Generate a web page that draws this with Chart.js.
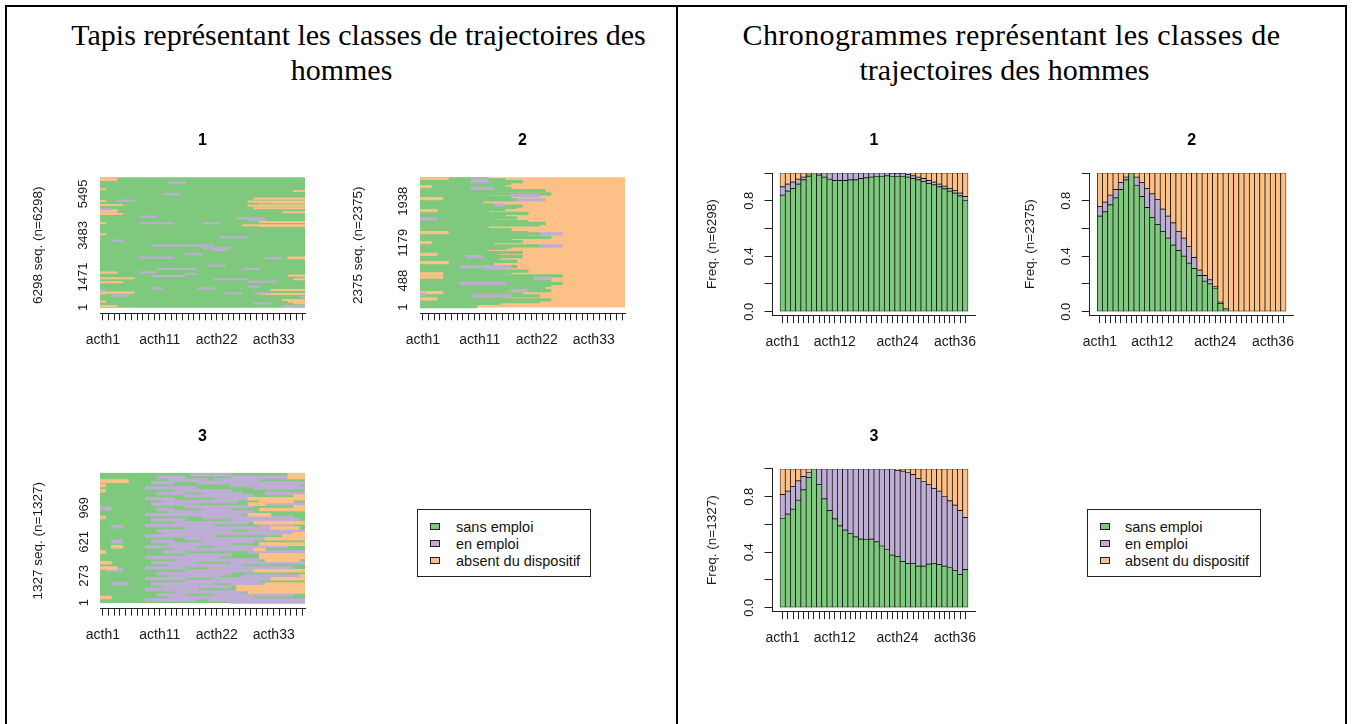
<!DOCTYPE html>
<html>
<head>
<meta charset="utf-8">
<title>Classes de trajectoires des hommes</title>
<script src="https://cdn.jsdelivr.net/npm/chart.js@4.4.1/dist/chart.umd.min.js"></script>
<style>
  body { margin: 0; background: #fff; }
  #page { position: relative; width: 1353px; height: 724px; overflow: hidden; background: #fff; }
  .frame { position: absolute; left: 5px; top: 5px; width: 1338px; height: 740px; border: 2px solid #000; }
  .divider { position: absolute; left: 676px; top: 5px; width: 2px; height: 740px; background: #000; }
  .bigtitle { position: absolute; top: 17px; font-family: 'Liberation Serif', 'Times New Roman', serif; font-size: 30px; line-height: 35px; text-align: center; color: #000; }
  canvas { position: absolute; }
  .legend { position: absolute; width: 172px; height: 66px; border: 1px solid #222; font-family: 'Liberation Sans', Arial, sans-serif; font-size: 14.5px; color: #111; }
  .legend .item { position: absolute; left: 0; height: 16px; line-height: 16px; white-space: nowrap; }
  .legend .sw { position: absolute; top: 4px; width: 10px; height: 7px; box-sizing: border-box; border: 1px solid #222; }
</style>
</head>
<body>
<div id="page">
  <div class="frame"></div>
  <div class="divider"></div>
  <div class="bigtitle" style="left:7px;width:669px"><span style="position:relative;left:17px">Tapis représentant les classes de trajectoires des</span><br>hommes</div>
  <div class="bigtitle" style="left:678px;width:667px"><span style="letter-spacing:0.4px">Chronogrammes représentant les classes de</span><br><span style="position:relative;left:-7px">trajectoires des hommes</span></div>
  <div class="legend" id="legendLeft" style="left:417px;top:509px"></div>
  <div class="legend" id="legendRight" style="left:1087px;top:509px"></div>
</div>
<script>
// ---- states (alphabet) and colours ----
const states = ['sans emploi', 'en emploi', 'absent du dispositif'];
const stateColors = ['#7FC97F', '#BEAED4', '#FDC086'];

// ---- x axis: 36 monthly columns, and the labels R kept on the axis ----
const months = Array.from({ length: 36 }, (_, i) => 'acth' + (i + 1));
const tapisTickPos = [1, 11, 21, 31];
const tapisTickText = ['acth1', 'acth11', 'acth22', 'acth33'];
const chronoTickPos = [1, 11, 23, 34];
const chronoTickText = ['acth1', 'acth12', 'acth24', 'acth36'];

// ---- class sizes ----
const classSizes = [6298, 2375, 1327];

// ---- index plot y ticks (sequence numbers) ----
const tapis1YTicks = [1, 1471, 3483, 5495];
const tapis2YTicks = [1, 488, 1179, 1938];
const tapis3YTicks = [1, 273, 621, 969];

// ---- chronogram y ticks ----
const chronoYTicks = [0, 0.2, 0.4, 0.6, 0.8, 1];
const chronoYLabels = ['0.0', '', '0.4', '', '0.8', ''];

// ---- chronogram class 1 (n=6298): share of each state per month ----
const chrono1Sans = [0.84, 0.87, 0.89, 0.92, 0.95, 0.975, 1.00, 0.985, 0.97, 0.955, 0.945, 0.945, 0.945, 0.95, 0.95, 0.96, 0.965, 0.97, 0.975, 0.975, 0.98, 0.975, 0.975, 0.975, 0.97, 0.96, 0.95, 0.94, 0.925, 0.915, 0.90, 0.885, 0.87, 0.855, 0.835, 0.80];
const chrono1Emploi = [0.06, 0.05, 0.045, 0.035, 0.02, 0.01, 0, 0.015, 0.03, 0.045, 0.055, 0.055, 0.055, 0.05, 0.05, 0.04, 0.035, 0.03, 0.025, 0.025, 0.02, 0.02, 0.02, 0.02, 0.02, 0.02, 0.02, 0.02, 0.02, 0.02, 0.02, 0.02, 0.02, 0.02, 0.02, 0.03];
const chrono1Absent = [0.10, 0.08, 0.065, 0.045, 0.03, 0.015, 0, 0, 0, 0, 0, 0, 0, 0, 0, 0, 0, 0, 0, 0, 0, 0.005, 0.005, 0.005, 0.01, 0.02, 0.03, 0.04, 0.055, 0.065, 0.08, 0.095, 0.11, 0.125, 0.145, 0.17];

// ---- chronogram class 2 (n=2375) ----
const chrono2Sans = [0.69, 0.72, 0.77, 0.82, 0.88, 0.95, 1.00, 0.91, 0.83, 0.75, 0.68, 0.63, 0.58, 0.53, 0.48, 0.44, 0.40, 0.35, 0.31, 0.26, 0.22, 0.20, 0.17, 0.06, 0.02, 0, 0, 0, 0, 0, 0, 0, 0, 0, 0, 0];
const chrono2Emploi = [0.07, 0.07, 0.07, 0.06, 0.05, 0.02, 0, 0.06, 0.10, 0.14, 0.17, 0.18, 0.16, 0.16, 0.16, 0.14, 0.13, 0.12, 0.08, 0.04, 0.04, 0.03, 0.01, 0.01, 0, 0, 0, 0, 0, 0, 0, 0, 0, 0, 0, 0];
const chrono2Absent = [0.24, 0.21, 0.16, 0.12, 0.07, 0.03, 0, 0.03, 0.07, 0.11, 0.15, 0.19, 0.26, 0.31, 0.36, 0.42, 0.47, 0.53, 0.61, 0.70, 0.74, 0.77, 0.82, 0.93, 0.98, 1, 1, 1, 1, 1, 1, 1, 1, 1, 1, 1];

// ---- chronogram class 3 (n=1327) ----
const chrono3Sans = [0.645, 0.675, 0.71, 0.775, 0.85, 0.94, 1.00, 0.89, 0.785, 0.70, 0.64, 0.59, 0.56, 0.535, 0.51, 0.495, 0.49, 0.495, 0.475, 0.445, 0.42, 0.38, 0.37, 0.335, 0.32, 0.32, 0.30, 0.30, 0.315, 0.32, 0.31, 0.30, 0.29, 0.27, 0.24, 0.275];
const chrono3Emploi = [0.17, 0.165, 0.165, 0.14, 0.095, 0.035, 0, 0.11, 0.215, 0.30, 0.36, 0.41, 0.44, 0.465, 0.49, 0.505, 0.51, 0.505, 0.525, 0.555, 0.58, 0.62, 0.62, 0.65, 0.655, 0.64, 0.63, 0.61, 0.575, 0.54, 0.53, 0.50, 0.48, 0.47, 0.46, 0.375];
const chrono3Absent = [0.185, 0.16, 0.125, 0.085, 0.055, 0.025, 0, 0, 0, 0, 0, 0, 0, 0, 0, 0, 0, 0, 0, 0, 0, 0, 0.01, 0.015, 0.025, 0.04, 0.07, 0.09, 0.11, 0.14, 0.16, 0.20, 0.23, 0.26, 0.30, 0.35];

// ---- index plot (tapis) spells: [sequence number, start month, end month] ----
// class 1: mostly "sans emploi", a few spells of the other states
const tapis1Emploi = [
  [6040, 12, 15], [5475, 11, 14], [5168, 3, 6], [4748, 0, 2], [4393, 7, 10], [4312, 24, 29], [4231, 26, 29],
  [4070, 7, 13], [4070, 18, 21], [3391, 21, 26], [3230, 2, 4], [2988, 9, 20], [2859, 18, 23], [2778, 20, 22],
  [2568, 15, 18], [2406, 7, 13], [2374, 29, 32], [2019, 19, 22], [1857, 10, 17], [1857, 25, 28], [1696, 7, 10],
  [1615, 15, 17], [1518, 9, 15], [1357, 20, 26], [1244, 26, 31], [1001, 26, 28], [921, 9, 11], [921, 17, 20],
  [807, 0, 1], [678, 22, 25], [678, 27, 30], [565, 2, 5], [517, 35, 36], [194, 27, 30], [65, 32, 36]
];
const tapis1Absent = [
  [6250, 0, 3], [6169, 0, 3], [5717, 0, 1], [5152, 0, 1], [4958, 0, 4], [4716, 0, 3], [4635, 0, 3], [4522, 0, 4],
  [4070, 0, 1], [3537, 0, 1], [1680, 0, 3], [1405, 0, 6], [1211, 0, 4], [711, 0, 6], [678, 0, 1], [275, 0, 1], [65, 0, 3],
  [5636, 34, 36], [5265, 27, 36], [5120, 26, 36], [5080, 28, 36], [4926, 26, 36], [4797, 27, 36], [4603, 32, 36],
  [4134, 28, 36], [3973, 25, 36], [3940, 28, 36], [2406, 33, 36], [2374, 33, 36], [1534, 33, 36], [1357, 34, 36],
  [840, 30, 36], [646, 28, 36], [355, 32, 36], [275, 33, 36], [194, 34, 36]
];

// class 2: "sans emploi" first, then leaves the scheme; [sequence, start, end] of the sans emploi spell
const tapis2Sans = [
  [2357, 0, 12], [2326, 0, 15], [2296, 0, 18], [2265, 0, 16], [2235, 0, 13], [2204, 0, 15], [2174, 0, 16], [2132, 0, 22],
  [2100, 0, 14], [2071, 0, 23], [2040, 0, 12], [2010, 0, 16], [1985, 0, 9], [1961, 0, 17], [1936, 0, 11], [1912, 0, 10],
  [1870, 0, 13], [1850, 0, 18], [1827, 0, 17], [1790, 0, 15], [1768, 0, 12], [1748, 0, 11], [1717, 0, 19], [1687, 0, 15],
  [1656, 0, 14], [1635, 0, 17], [1614, 0, 9], [1590, 0, 13], [1565, 0, 19], [1535, 0, 22], [1504, 0, 21], [1474, 0, 12],
  [1443, 0, 11], [1420, 0, 16], [1401, 0, 14], [1364, 0, 19], [1340, 0, 21], [1303, 0, 19], [1279, 0, 23], [1255, 0, 14],
  [1230, 0, 16], [1200, 0, 18], [1180, 0, 12], [1157, 0, 13], [1121, 0, 22], [1100, 0, 16], [1078, 0, 15], [1057, 0, 10],
  [1035, 0, 12], [999, 0, 18], [968, 0, 11], [948, 0, 14], [926, 0, 18], [895, 0, 14], [865, 0, 13], [840, 0, 17],
  [816, 0, 9], [786, 0, 13], [765, 0, 11], [743, 0, 17], [713, 0, 15], [682, 0, 13], [660, 0, 19], [639, 0, 16],
  [609, 0, 9], [590, 0, 14], [572, 0, 25], [550, 0, 12], [530, 0, 23], [499, 0, 18], [469, 0, 23], [438, 0, 25],
  [420, 0, 13], [402, 0, 23], [378, 0, 12], [347, 0, 22], [325, 0, 15], [304, 0, 23], [268, 0, 9], [244, 0, 18],
  [225, 0, 13], [207, 0, 21], [177, 0, 15], [155, 0, 11], [134, 0, 23], [104, 0, 21], [73, 0, 14], [43, 0, 9], [12, 0, 10]
];
const tapis2Emploi = [
  [2326, 9, 12], [2296, 9, 12], [2174, 9, 13], [2040, 16, 21], [1961, 17, 22], [1870, 13, 15], [1614, 0, 3], [1340, 21, 25],
  [1121, 21, 25], [926, 8, 11], [743, 7, 16], [713, 11, 15], [530, 20, 23], [438, 7, 15], [304, 16, 19], [244, 0, 1], [207, 9, 16]
];
const tapis2Absent = [
  [2357, 0, 5], [2204, 0, 2], [1985, 0, 4], [1768, 0, 3], [1364, 0, 5], [1180, 0, 2], [968, 0, 3], [816, 0, 5],
  [609, 0, 4], [550, 0, 4], [268, 0, 4], [155, 0, 3]
];

// class 3: employment spells spread over the period, some leave at the end
const tapis3Emploi = [
  [1306, 16, 23], [1278, 10, 15], [1278, 23, 33], [1251, 12, 19], [1251, 20, 28], [1224, 9, 13], [1224, 17, 36],
  [1197, 23, 35], [1170, 8, 17], [1170, 27, 36], [1142, 13, 23], [1115, 10, 15], [1115, 18, 25], [1115, 29, 36],
  [1088, 15, 27], [1061, 8, 13], [1061, 20, 26], [1034, 11, 24], [1006, 9, 17], [1006, 29, 36], [979, 15, 27],
  [962, 0, 2], [952, 10, 13], [952, 18, 23], [925, 12, 27], [898, 8, 25], [870, 18, 34], [843, 9, 15], [843, 23, 35],
  [816, 13, 26], [789, 8, 20], [789, 28, 34], [776, 2, 4], [762, 15, 30], [734, 10, 23], [734, 26, 36], [707, 11, 34],
  [680, 8, 20], [653, 15, 29], [626, 2, 4], [626, 9, 13], [626, 18, 27], [598, 12, 23], [571, 8, 17], [571, 20, 33],
  [544, 13, 27], [517, 11, 15], [517, 26, 36], [490, 15, 23], [462, 8, 21], [435, 13, 28], [408, 9, 17], [408, 23, 36],
  [381, 12, 25], [354, 8, 15], [354, 19, 34], [333, 1, 4], [326, 15, 27], [299, 10, 23], [272, 12, 21], [272, 25, 35],
  [245, 8, 15], [245, 20, 30], [218, 15, 28], [197, 2, 5], [190, 9, 20], [190, 23, 29], [163, 11, 23], [136, 8, 17],
  [109, 13, 25], [82, 10, 15], [82, 20, 34], [54, 12, 27], [27, 8, 17], [27, 19, 36], [7, 23, 36]
];
const tapis3Absent = [
  [1306, 33, 36], [1278, 33, 36], [1241, 0, 5], [1197, 0, 1], [1142, 0, 1], [1088, 34, 36], [1061, 26, 36], [1034, 28, 34],
  [1006, 26, 29], [979, 34, 36], [952, 28, 36], [898, 26, 30], [870, 0, 1], [816, 27, 36], [762, 30, 35], [707, 34, 36],
  [680, 32, 36], [653, 29, 36], [598, 28, 36], [571, 2, 4], [544, 27, 29], [517, 0, 1], [490, 28, 36], [462, 28, 36],
  [435, 29, 35], [408, 0, 2], [354, 0, 3], [326, 27, 36], [272, 35, 36], [245, 30, 36], [190, 29, 36], [163, 24, 36],
  [136, 24, 36], [109, 26, 36], [54, 0, 2]
];

// ---- shared styling ----
const FONT = "'Liberation Sans', Arial, sans-serif";
const TXT = '#1a1a1a';
const AXIS = '#222';
const TITLE_LH = 16 * 1.2;
const X_AXIS_H = 36;

// Build a canvas at an absolute spot of the page
function addCanvas(box) {
  const c = document.createElement('canvas');
  c.width = box.w;
  c.height = box.h;
  c.style.left = box.x + 'px';
  c.style.top = box.y + 'px';
  document.getElementById('page').appendChild(c);
  return c;
}

// Padding so that the plot area lands where R drew it
function framePadding(area, box, yW, titleGap) {
  return {
    left: area.left - box.x - yW,
    right: box.x + box.w - area.right,
    top: area.top - titleGap - TITLE_LH / 2 - box.y,
    bottom: box.y + box.h - area.bottom - X_AXIS_H
  };
}

function panelTitle(text, titleGap) {
  return {
    display: true, text: text, fullSize: false, color: '#000',
    font: { family: FONT, size: 16, weight: 'bold', lineHeight: 1.2 },
    padding: { top: 0, bottom: titleGap - TITLE_LH / 2 }
  };
}

function tickLabel(posList, textList, pos) {
  const k = posList.indexOf(pos);
  return k >= 0 ? textList[k] : '';
}

function spells(list) {
  return list.map(s => ({ y: s[0], x: [s[1], s[2]] }));
}

// Sequence index plot ("tapis")
function tapisChart(cfg) {
  const yW = 70, gap = 36.5;
  const n = cfg.n;
  const datasets = cfg.layers.map(l => ({
    data: l.whole ? [{ y: n / 2, x: [0, months.length] }] : spells(l.data),
    backgroundColor: stateColors[l.state],
    borderWidth: 0,
    grouped: false,
    barThickness: l.whole ? (cfg.area.bottom - cfg.area.top - 6) : cfg.rowPx
  }));
  new Chart(addCanvas(cfg.box), {
    type: 'bar',
    data: { datasets: datasets },
    options: {
      indexAxis: 'y',
      responsive: false,
      animation: false,
      devicePixelRatio: 1,
      layout: { padding: framePadding(cfg.area, cfg.box, yW, gap) },
      plugins: { legend: { display: false }, tooltip: { enabled: false }, title: panelTitle(cfg.title, gap) },
      scales: {
        x: {
          type: 'linear', min: 0, max: months.length,
          afterBuildTicks: s => { s.ticks = months.map((m, i) => ({ value: i + 0.5 })); },
          afterFit: s => { s.height = X_AXIS_H; },
          ticks: { autoSkip: false, minRotation: 0, maxRotation: 0, padding: 11, color: TXT, font: { family: FONT, size: 14 },
            callback: (v, i) => tickLabel(tapisTickPos, tapisTickText, i + 1) },
          grid: { display: true, offset: false, drawOnChartArea: false, drawTicks: true, tickLength: 7, color: AXIS, lineWidth: 1 },
          border: { display: true, color: AXIS, width: 1 }
        },
        y: {
          type: 'linear', offset: false, min: cfg.yMin, max: n,
          afterBuildTicks: s => { s.ticks = cfg.yTicks.map(v => ({ value: v })); },
          afterFit: s => { s.width = yW; },
          ticks: { autoSkip: false, minRotation: 90, maxRotation: 90, crossAlign: 'center', padding: cfg.yPad, color: TXT,
            font: { family: FONT, size: 13 }, callback: v => String(v) },
          grid: { display: false, offset: false },
          border: { display: false },
          title: { display: true, text: n + ' seq. (n=' + n + ')', padding: 0, color: TXT, font: { family: FONT, size: 13.5 } }
        }
      }
    }
  });
}

// State distribution plot ("chronogramme")
function chronoChart(cfg) {
  const yW = 68, gap = 32;
  const series = [cfg.sans, cfg.emploi, cfg.absent];
  new Chart(addCanvas(cfg.box), {
    type: 'bar',
    data: {
      datasets: series.map((vals, s) => ({
        label: states[s],
        data: vals.map((v, i) => ({ x: i + 1, y: v })),
        backgroundColor: stateColors[s],
        borderColor: '#000',
        borderWidth: 0.7,
        borderSkipped: false,
        categoryPercentage: 1,
        barPercentage: 1
      }))
    },
    options: {
      responsive: false,
      animation: false,
      devicePixelRatio: 1,
      layout: { padding: framePadding(cfg.area, cfg.box, yW, gap) },
      plugins: { legend: { display: false }, tooltip: { enabled: false }, title: panelTitle(cfg.title, gap) },
      scales: {
        x: {
          type: 'linear', offset: false, stacked: true, min: -0.94, max: months.length + 1.94,
          afterBuildTicks: s => { s.ticks = months.map((m, i) => ({ value: i + 1 })); },
          afterFit: s => { s.height = X_AXIS_H; },
          ticks: { autoSkip: false, minRotation: 0, maxRotation: 0, padding: 11, color: TXT, font: { family: FONT, size: 14 },
            callback: (v, i) => tickLabel(chronoTickPos, chronoTickText, i + 1) },
          grid: { display: true, offset: false, drawOnChartArea: false, drawTicks: true, tickLength: 8, color: AXIS, lineWidth: 1 },
          border: { display: true, color: AXIS, width: 1 }
        },
        y: {
          type: 'linear', stacked: true, min: -0.025, max: 1,
          afterBuildTicks: s => { s.ticks = chronoYTicks.map(v => ({ value: v })); },
          afterFit: s => { s.width = yW; },
          ticks: { autoSkip: false, minRotation: 90, maxRotation: 90, crossAlign: 'center', padding: 6, color: TXT,
            font: { family: FONT, size: 13 }, callback: (v, i) => chronoYLabels[i] },
          grid: { display: true, drawOnChartArea: false, drawTicks: true, tickLength: 8, color: AXIS, lineWidth: 1 },
          border: { display: true, color: AXIS, width: 1 },
          title: { display: true, text: 'Freq. (n=' + cfg.n + ')', padding: 0, color: TXT, font: { family: FONT, size: 13.5 } }
        }
      }
    }
  });
}

// ---- left cell: index plots ----
tapisChart({
  title: '1', n: classSizes[0], yMin: -290, yTicks: tapis1YTicks, yPad: -6, rowPx: 1.4,
  box: { x: 10, y: 118, w: 320, h: 244 }, area: { left: 100, right: 305, top: 177.3, bottom: 313.3 },
  layers: [{ state: 1, data: tapis1Emploi }, { state: 2, data: tapis1Absent }, { state: 0, whole: true }]
});
tapisChart({
  title: '2', n: classSizes[1], yMin: -110, yTicks: tapis2YTicks, yPad: -6, rowPx: 2.6,
  box: { x: 330, y: 118, w: 320, h: 244 }, area: { left: 420, right: 625, top: 177.3, bottom: 313.3 },
  layers: [{ state: 1, data: tapis2Emploi }, { state: 2, data: tapis2Absent }, { state: 0, data: tapis2Sans }, { state: 2, whole: true }]
});
tapisChart({
  title: '3', n: classSizes[2], yMin: -61, yTicks: tapis3YTicks, yPad: -3.5, rowPx: 2.9,
  box: { x: 10, y: 414, w: 320, h: 244 }, area: { left: 100, right: 305, top: 472.7, bottom: 608.7 },
  layers: [{ state: 2, data: tapis3Absent }, { state: 1, data: tapis3Emploi }, { state: 0, whole: true }]
});

// ---- right cell: chronograms ----
chronoChart({
  title: '1', n: classSizes[0], sans: chrono1Sans, emploi: chrono1Emploi, absent: chrono1Absent,
  box: { x: 690, y: 118, w: 310, h: 244 }, area: { left: 772.5, right: 975.5, top: 173, bottom: 315.2 }
});
chronoChart({
  title: '2', n: classSizes[1], sans: chrono2Sans, emploi: chrono2Emploi, absent: chrono2Absent,
  box: { x: 1007, y: 118, w: 320, h: 244 }, area: { left: 1089.75, right: 1293.55, top: 173, bottom: 315.2 }
});
chronoChart({
  title: '3', n: classSizes[2], sans: chrono3Sans, emploi: chrono3Emploi, absent: chrono3Absent,
  box: { x: 690, y: 414, w: 310, h: 244 }, area: { left: 772.5, right: 975.5, top: 469, bottom: 611.2 }
});

// ---- legends (same content in both cells) ----
function fillLegend(id, swLeft, textLeft) {
  const box = document.getElementById(id);
  const rowTops = [9, 25.5, 43];
  states.forEach((s, i) => {
    const item = document.createElement('div');
    item.className = 'item';
    item.style.top = rowTops[i] + 'px';
    item.innerHTML = '<span class="sw" style="left:' + swLeft + 'px;background:' + stateColors[i] + '"></span>' +
      '<span style="position:absolute;left:' + textLeft + 'px">' + s + '</span>';
    box.appendChild(item);
  });
}
fillLegend('legendLeft', 12, 38);
fillLegend('legendRight', 12, 37);
</script>
</body>
</html>
